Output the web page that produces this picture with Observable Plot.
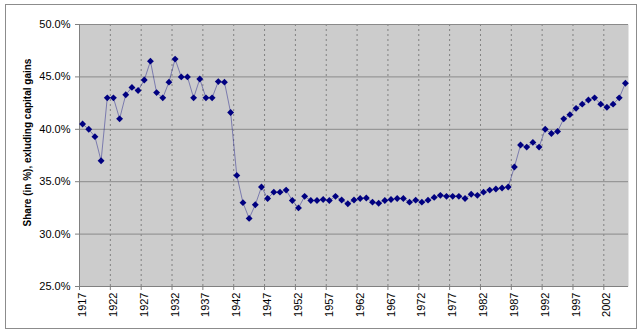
<!DOCTYPE html>
<html><head><meta charset="utf-8">
<script src="https://cdn.jsdelivr.net/npm/d3@7"></script>
<script src="https://cdn.jsdelivr.net/npm/@observablehq/plot@0.6"></script>
<style>
body{margin:0;background:#fff;}
#wrap{position:relative;width:642px;height:335px;}
#frame{position:absolute;left:5px;top:4px;width:630px;height:323px;border:1px solid #8c8c8c;pointer-events:none;}
</style></head><body><div id="wrap"><div id="frame"></div></div>
<script>
const years = d3.range(1917, 2006);
const shares = [
  40.5, 40.0, 39.3, 37.0, 43.0, 43.0, 41.0, 43.3, 44.0, 43.7,
  44.7, 46.5, 43.5, 43.0, 44.5, 46.7, 45.0, 45.0, 43.0, 44.8,
  43.0, 43.0, 44.55, 44.5, 41.6,
  35.6, 33.0, 31.5, 32.8, 34.5, 33.4, 34.0, 34.0, 34.2, 33.2,
  32.5, 33.6, 33.2, 33.2, 33.3, 33.2, 33.6, 33.25, 32.9, 33.25,
  33.4, 33.45, 33.05, 32.95,
  33.2, 33.3, 33.4, 33.4, 33.05, 33.24, 33.05, 33.24, 33.5, 33.7,
  33.6, 33.6, 33.6, 33.4, 33.8, 33.7, 34.0, 34.2, 34.3, 34.4,
  34.5, 36.4, 38.5, 38.3, 38.75, 38.3, 40.0, 39.6, 39.8, 41.0,
  41.4, 42.0, 42.4, 42.8, 43.0, 42.4, 42.1, 42.4, 43.0, 44.4
];
const yTicks = [25, 30, 35, 40, 45, 50];
const labelYears = [1917, 1922, 1927, 1932, 1937, 1942, 1947, 1952, 1957, 1962, 1967, 1972, 1977, 1982, 1987, 1992, 1997, 2002];
const yLabel = "Share (in %), exluding capital gains";

const data = years.map((year, i) => ({year, share: shares[i]}));
const boundaries = labelYears.map(y => y - 0.5);
const gridYears = boundaries.slice(1);

const chart = Plot.plot({
  width: 642, height: 335,
  marginLeft: 79, marginRight: 14, marginTop: 24, marginBottom: 49,
  style: {fontFamily: "'Liberation Sans', Arial, sans-serif", fontSize: "11px", background: "transparent", color: "#000"},
  x: {domain: [years[0] - 0.5, years[years.length - 1] + 0.5]},
  y: {domain: [25, 50]},
  marks: [
    Plot.frame({fill: "#cccccc", stroke: null}),
    Plot.gridX(gridYears, {stroke: "#808080", strokeOpacity: 1, strokeDasharray: "2,3"}),
    Plot.gridY(yTicks.slice(1), {stroke: "#8a8a8a", strokeOpacity: 1}),
    Plot.axisY(yTicks, {tickFormat: d => d.toFixed(1) + "%", tickSize: 4, tickPadding: 5, label: null, stroke: "#808080"}),
    Plot.ruleX([years[0] - 0.5], {stroke: "#808080"}),
    Plot.ruleY([25], {stroke: "#808080"}),
    Plot.axisX(boundaries, {tickSize: 4, tickFormat: () => "", label: null, stroke: "#808080"}),
    Plot.axisX(labelYears, {tickSize: 0, tickPadding: 6, tickRotate: -90, tickFormat: d => String(d), label: null}),
    Plot.text([yLabel], {frameAnchor: "left", textAnchor: "middle", rotate: -90, dx: -52, dy: -13, fontWeight: "bold", fontSize: 10}),
    Plot.line(data, {x: "year", y: "share", stroke: "#000080", strokeOpacity: 0.4, strokeWidth: 1}),
    Plot.dot(data, {x: "year", y: "share", symbol: "diamond2", r: 3.1, fill: "#000080", stroke: "none"})
  ]
});
document.getElementById("wrap").prepend(chart);
</script>
</body></html>
